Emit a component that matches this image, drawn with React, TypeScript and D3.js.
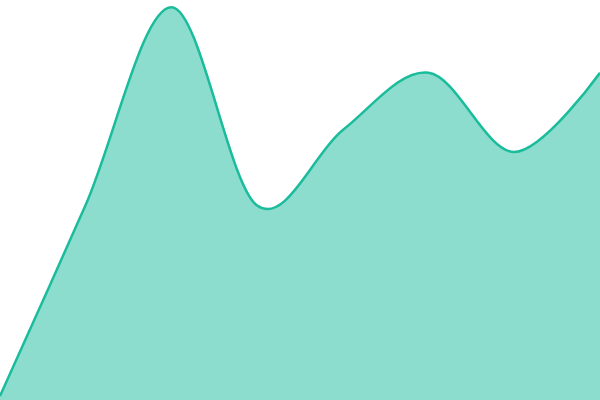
import * as d3 from "d3";

// one series, evenly spaced points across the full width
const labels = ["1", "2", "3", "4", "5", "6", "7", "8"];
const values = [1, 48.8, 98.2, 48.6, 67.5, 81.8, 62, 81.8];

const width = 600;
const height = 400;

export default function App() {
  const x = d3.scalePoint<string>()
    .domain(labels)
    .range([0, width]);
  const y = d3.scaleLinear()
    .domain([0, 100])
    .range([height, 0]);

  const pts = labels.map((l, i) => ({ label: l, value: values[i] }));

  const area = d3.area<{ label: string; value: number }>()
    .x(d => x(d.label) ?? 0)
    .y0(height)
    .y1(d => y(d.value))
    .curve(d3.curveCardinal.tension(0));
  const line = d3.line<{ label: string; value: number }>()
    .x(d => x(d.label) ?? 0)
    .y(d => y(d.value))
    .curve(d3.curveCardinal.tension(0));

  return (
    <svg
      width={width}
      height={height}
      style={{ position: "absolute", left: 0, top: 0, background: "#fff" }}
    >
      <path d={area(pts) ?? ""} fill="#1abc9c" fillOpacity={0.5} />
      <path d={line(pts) ?? ""} fill="none" stroke="#1abc9c" strokeWidth={2.5} />
    </svg>
  );
}
